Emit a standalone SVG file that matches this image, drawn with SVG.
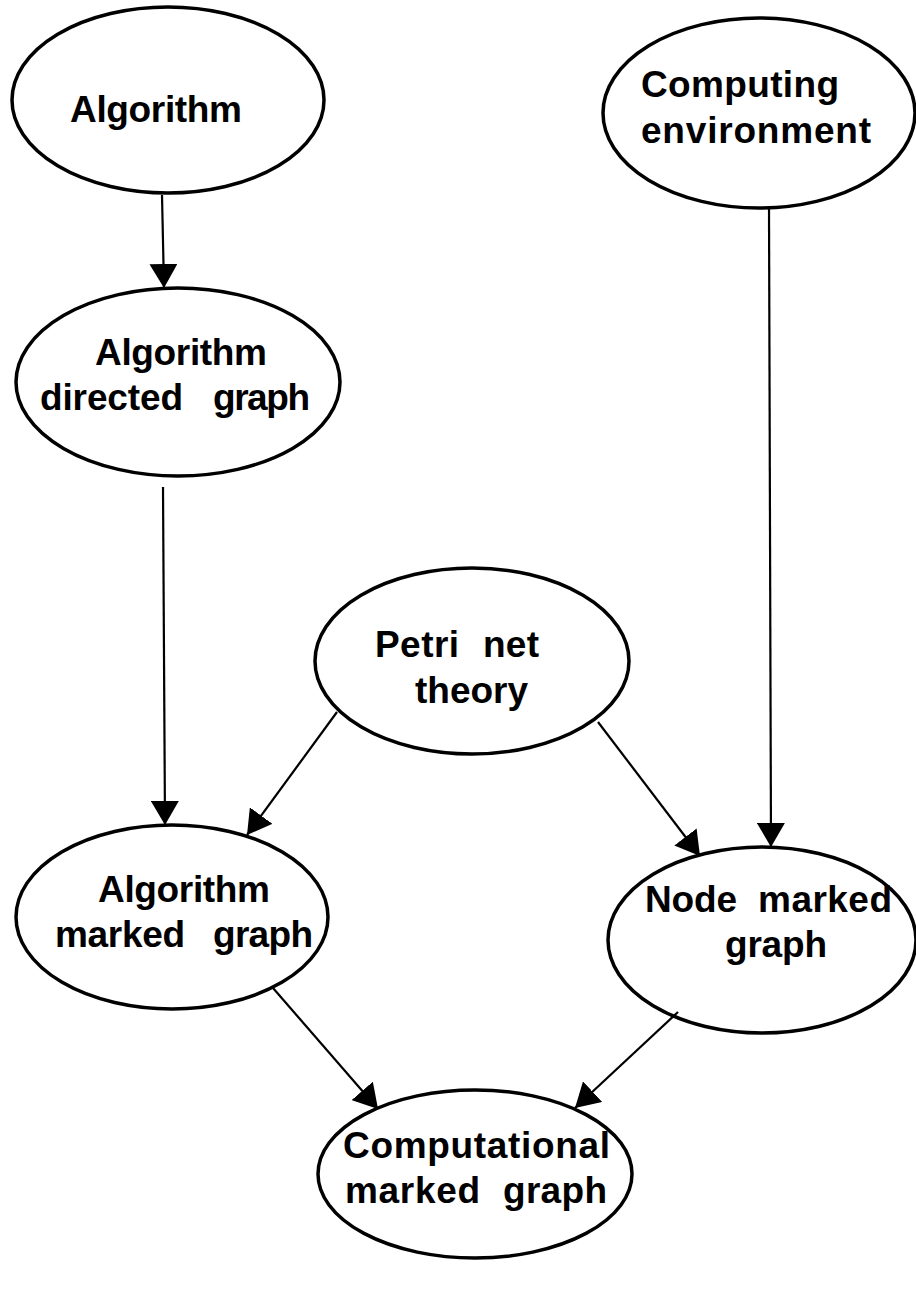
<svg xmlns="http://www.w3.org/2000/svg" width="916" height="1301" viewBox="0 0 916 1301">
  <style>
    .node ellipse { fill: none; stroke: #000; stroke-width: 3.5; }
    .node text { font-family: "Liberation Sans", Arial, sans-serif; font-weight: bold; font-size: 37px; fill: #000; }
    .edges line { stroke: #000; stroke-width: 2.2; marker-end: url(#head); }
  </style>
  <defs>
    <marker id="head" markerUnits="userSpaceOnUse" markerWidth="24" markerHeight="28" viewBox="0 0 24 28" refX="24" refY="14" orient="auto">
      <path d="M0,0 L24,14 L0,28 Z" fill="#000"/>
    </marker>
  </defs>

  <rect width="916" height="1301" fill="#fff"/>

  <!-- connectors -->
  <g class="edges">
    <line x1="162" y1="195" x2="164" y2="288"/>
    <line x1="163" y1="487" x2="165" y2="825"/>
    <line x1="769" y1="208" x2="771" y2="847"/>
    <line x1="337" y1="712" x2="247" y2="835"/>
    <line x1="598" y1="722" x2="700" y2="856"/>
    <line x1="273" y1="988" x2="378" y2="1109"/>
    <line x1="678" y1="1012" x2="575" y2="1108"/>
  </g>

  <!-- nodes (each word placed on its own so the wide word gaps hold) -->
  <g id="algorithm" class="node">
    <ellipse cx="168" cy="100" rx="156" ry="93"/>
    <text x="70" y="122" textLength="172" lengthAdjust="spacing">Algorithm</text>
  </g>

  <g id="algorithm-directed-graph" class="node">
    <ellipse cx="178" cy="382" rx="162" ry="94"/>
    <text x="95" y="365" textLength="172" lengthAdjust="spacing">Algorithm</text>
    <text x="40" y="410" textLength="143" lengthAdjust="spacing">directed</text>
    <text x="213" y="410" textLength="97" lengthAdjust="spacing">graph</text>
  </g>

  <g id="computing-environment" class="node">
    <ellipse cx="759" cy="113" rx="156" ry="95"/>
    <text x="641" y="97" textLength="198" lengthAdjust="spacing">Computing</text>
    <text x="641" y="143" textLength="230" lengthAdjust="spacing">environment</text>
  </g>

  <g id="petri-net-theory" class="node">
    <ellipse cx="472" cy="661" rx="157" ry="93"/>
    <text x="375" y="657" textLength="84" lengthAdjust="spacing">Petri</text>
    <text x="483" y="657" textLength="56" lengthAdjust="spacing">net</text>
    <text x="415" y="703" textLength="113" lengthAdjust="spacing">theory</text>
  </g>

  <g id="algorithm-marked-graph" class="node">
    <ellipse cx="172" cy="917" rx="156" ry="92"/>
    <text x="98" y="902" textLength="172" lengthAdjust="spacing">Algorithm</text>
    <text x="55" y="947" textLength="130" lengthAdjust="spacing">marked</text>
    <text x="213" y="947" textLength="100" lengthAdjust="spacing">graph</text>
  </g>

  <g id="node-marked-graph" class="node">
    <ellipse cx="762" cy="940" rx="154" ry="93"/>
    <text x="645" y="912" textLength="92" lengthAdjust="spacing">Node</text>
    <text x="758" y="912" textLength="134" lengthAdjust="spacing">marked</text>
    <text x="725" y="957" textLength="102" lengthAdjust="spacing">graph</text>
  </g>

  <g id="computational-marked-graph" class="node">
    <ellipse cx="475" cy="1174" rx="157" ry="84"/>
    <text x="343" y="1158" textLength="267" lengthAdjust="spacing">Computational</text>
    <text x="345" y="1203" textLength="135" lengthAdjust="spacing">marked</text>
    <text x="503" y="1203" textLength="104" lengthAdjust="spacing">graph</text>
  </g>
</svg>
